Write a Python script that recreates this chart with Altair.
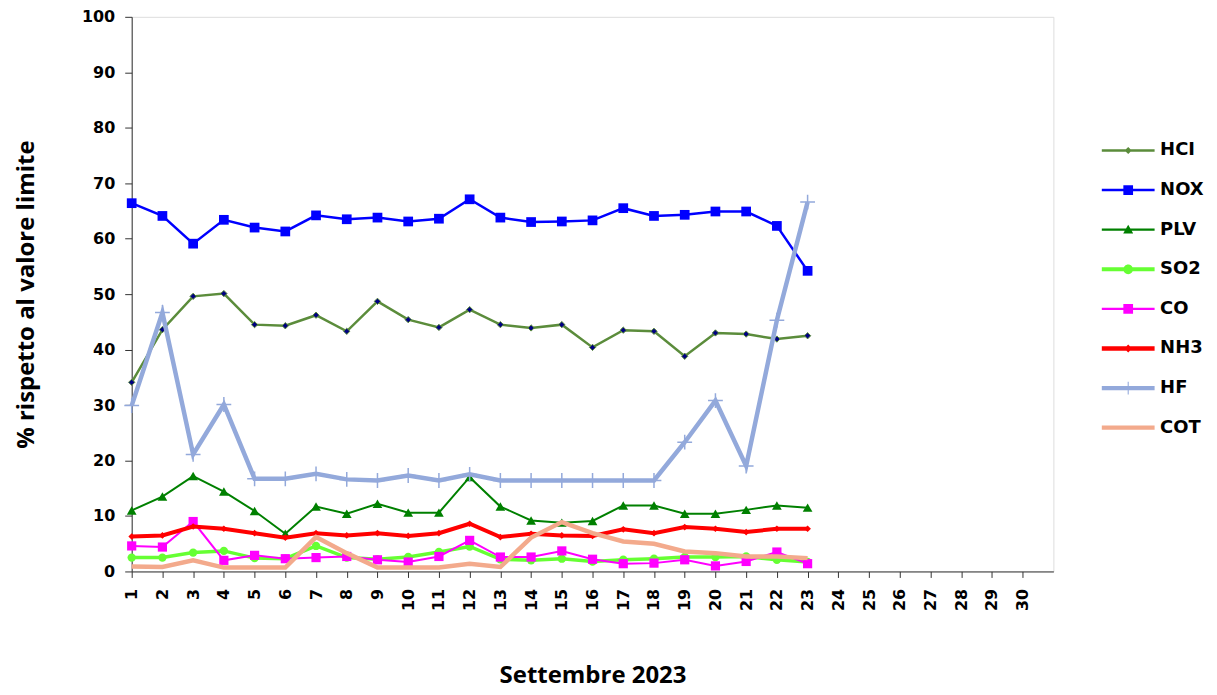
import altair as alt
import pandas as pd

days = list(range(1, 24))
series_names = ["HCI", "NOX", "PLV", "SO2", "CO", "NH3", "HF", "COT"]

hcl = [34.1, 43.6, 49.6, 50.1, 44.5, 44.3, 46.2, 43.3, 48.7, 45.4, 44.0, 47.2,
       44.5, 43.9, 44.5, 40.4, 43.5, 43.3, 38.8, 43.0, 42.8, 41.9, 42.5]
nox = [66.4, 64.1, 59.1, 63.4, 62.0, 61.3, 64.2, 63.5, 63.8, 63.1, 63.6, 67.1,
       63.8, 63.0, 63.1, 63.3, 65.5, 64.1, 64.3, 64.9, 64.9, 62.3, 54.2]
plv = [11.0, 13.5, 17.2, 14.4, 10.9, 6.8, 11.7, 10.4, 12.2, 10.6, 10.6, 17.0,
       11.7, 9.2, 8.8, 9.1, 11.9, 11.9, 10.4, 10.4, 11.1, 11.9, 11.5]
so2 = [2.5, 2.5, 3.4, 3.7, 2.4, 2.3, 4.6, 2.5, 2.2, 2.6, 3.5, 4.5,
       2.2, 2.0, 2.3, 1.8, 2.1, 2.3, 2.6, 2.6, 2.7, 2.1, 1.7]
co = [4.6, 4.4, 9.0, 2.0, 2.9, 2.3, 2.5, 2.7, 2.1, 1.7, 2.7, 5.6,
      2.6, 2.6, 3.7, 2.2, 1.4, 1.5, 2.1, 1.0, 1.8, 3.5, 1.4]
nh3 = [6.3, 6.5, 8.1, 7.7, 6.9, 6.1, 6.9, 6.5, 6.9, 6.4, 6.9, 8.6,
       6.2, 6.8, 6.5, 6.4, 7.6, 6.9, 8.0, 7.7, 7.1, 7.7, 7.7]
hf = [29.9, 46.7, 21.1, 30.1, 16.7, 16.7, 17.6, 16.6, 16.4, 17.3, 16.4, 17.5,
      16.4, 16.4, 16.4, 16.4, 16.4, 16.4, 23.3, 30.8, 19.0, 45.3, 66.6]
cot = [0.9, 0.8, 2.0, 0.7, 0.7, 0.7, 6.2, 3.3, 0.7, 0.7, 0.7, 1.4,
       0.8, 6.1, 8.9, 6.9, 5.4, 5.0, 3.6, 3.3, 2.7, 2.7, 2.4]

x_ticks = list(range(1, 31))
y_ticks = list(range(0, 101, 10))

values = [hcl, nox, plv, so2, co, nh3, hf, cot]
rows = []
for name, vals in zip(series_names, values):
    for d, v in zip(days, vals):
        rows.append({"day": d, "value": v, "series": name})
df = pd.DataFrame(rows)

# ---- styles ----
colors = {"HCI": "#5B8C3B", "NOX": "#0000FF", "PLV": "#008000", "SO2": "#66FF33",
          "CO": "#FF00FF", "NH3": "#FF0000", "HF": "#93A9DB", "COT": "#F3AA8C"}
widths = {"HCI": 2.5, "NOX": 2.5, "PLV": 2, "SO2": 3.5, "CO": 2, "NH3": 4, "HF": 4.5, "COT": 4.5}
markers = {
    "HCI": dict(shape="diamond", size=40, filled=True, fill="#000080", stroke="#5B8C3B", strokeWidth=1),
    "NOX": dict(shape="square", size=95, filled=True, color="#0000FF"),
    "PLV": dict(shape="triangle-up", size=95, filled=True, color="#008000"),
    "SO2": dict(shape="circle", size=70, filled=True, color="#66FF33"),
    "CO": dict(shape="square", size=85, filled=True, color="#FF00FF"),
    "NH3": dict(shape="diamond", size=45, filled=True, color="#FF0000"),
    "HF": dict(shape="M-1,0H1M0,-1V1", size=220, filled=False, color="#93A9DB", strokeWidth=1.5),
    "COT": None,
}

# legend glyph paths (line + marker), units of half the symbol size
L = 1.47
def bar(t):
    return f"M-{L},-{t}H{L}V{t}H-{L}Z"
def sq(s):
    return f"M-{s},-{s}H{s}V{s}H-{s}Z"
def dia(d):
    return f"M0,-{d}L{d},0L0,{d}L-{d},0Z"
def tri(s):
    return f"M0,-{s}L{s},{s*0.75}L-{s},{s*0.75}Z"
def circ(r):
    return f"M-{r},0A{r},{r} 0 1,1 {r},0A{r},{r} 0 1,1 -{r},0Z"

legend_paths = [
    bar(0.07) + dia(0.2),
    bar(0.07) + sq(0.27),
    bar(0.06) + tri(0.28),
    bar(0.11) + circ(0.27),
    bar(0.06) + sq(0.27),
    bar(0.12) + dia(0.22),
    bar(0.12) + "M-0.03,-0.36H0.03V0.36H-0.03Z",
    bar(0.12),
]

FONT = "DejaVu Sans"

x_enc = alt.X("day:Q", scale=alt.Scale(domain=[1, 31], nice=False, zero=False),
              axis=alt.Axis(values=x_ticks, labelAngle=270, labelFont=FONT, labelFontWeight="bold",
                            labelFontSize=16, labelColor="black", tickSize=6, labelPadding=11,
                            grid=False, title="Settembre 2023", titleFont="Open Sans",
                            titleFontSize=24, titleFontWeight="bold", titleColor="black",
                            titlePadding=53, domainColor="#333", tickColor="#333", labelFlush=False))
y_enc = alt.Y("value:Q", scale=alt.Scale(domain=[0, 100], nice=False),
              axis=alt.Axis(values=y_ticks, labelFont=FONT, labelFontWeight="bold", labelFontSize=16,
                            labelColor="black", tickSize=7, labelPadding=10, grid=False,
                            title="% rispetto al valore limite", titleFont="Open Sans",
                            titleFontSize=24, titleFontWeight="bold", titleColor="black",
                            titlePadding=43, domainColor="#333", tickColor="#333"))

layers = []
for name in series_names:
    base = alt.Chart(df).transform_filter(alt.datum.series == name)
    layers.append(base.mark_line(color=colors[name], strokeWidth=widths[name]).encode(x=x_enc, y=y_enc))
    if markers[name] is not None:
        layers.append(base.mark_point(opacity=1, **markers[name]).encode(x=x_enc, y=y_enc))

legend = alt.Legend(title=None, orient="none", legendX=981, legendY=116, symbolSize=1296,
                    symbolStrokeWidth=0, labelFont=FONT, labelFontWeight="bold", labelFontSize=18,
                    labelColor="black", labelOffset=14, rowPadding=12.7, padding=0)
legend_layer = alt.Chart(df).transform_filter("false").mark_point(filled=True, opacity=1).encode(
    x=x_enc, y=y_enc,
    color=alt.Color("series:N", scale=alt.Scale(domain=series_names,
                                                range=[colors[n] for n in series_names]), legend=legend),
    shape=alt.Shape("series:N", scale=alt.Scale(domain=series_names, range=legend_paths), legend=legend),
)
layers.append(legend_layer)

chart = alt.layer(*layers).properties(
    width=924, height=556,
    padding={"top": 0, "left": 6, "right": 5, "bottom": 0},
).configure_view(stroke="#888", strokeWidth=1).configure(background="white")

chart.save("out.html", embed_options={"renderer": "svg", "actions": False})
